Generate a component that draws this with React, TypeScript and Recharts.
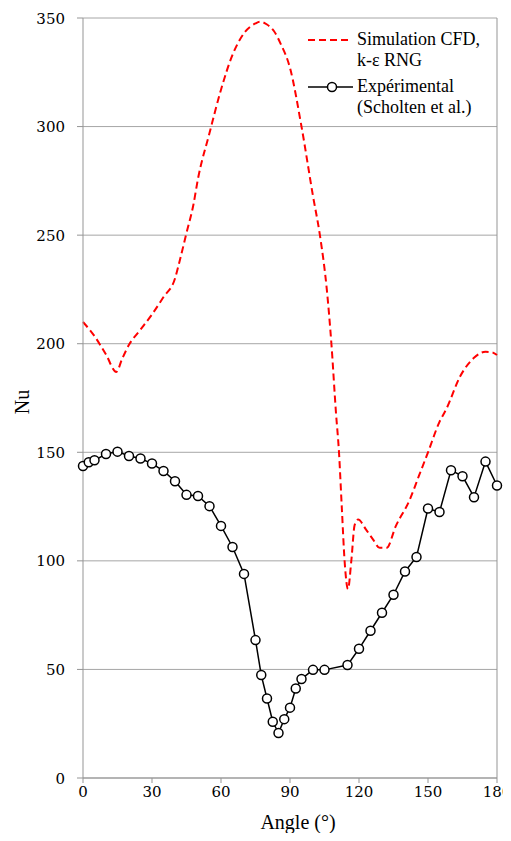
import React from 'react';
import { LineChart, Line, XAxis, YAxis, CartesianGrid, ReferenceLine, Label } from 'recharts';

const cfdAngles = [0, 5, 10, 14.5, 17, 20, 25, 30, 35, 40, 42, 45, 48, 50, 55, 60, 65, 70, 75, 77, 80, 83, 86, 90, 95, 100, 103, 106, 108, 110, 111.3, 112.5, 113.8, 115.2, 116.7, 118.1, 119.6, 123, 126, 129, 132, 136, 142, 146, 150, 155, 158, 164, 170, 175, 178, 180];
const cfdNu = [210, 203.5, 195, 187, 193, 199.5, 206.5, 213.5, 221.5, 230, 238, 251, 264, 276, 297, 317, 333, 343, 347.5, 348.3, 347, 344, 338, 327, 300, 268, 250, 225, 200, 168, 150, 125, 99, 87, 100.5, 116.5, 119, 114.5, 110, 106, 106, 116, 128, 139, 150, 164, 170, 185, 193.5, 196.3, 196, 194.8];

const expAngles = [0, 2.5, 5, 10, 15, 20, 25, 30, 35, 40, 45, 50, 55, 60, 65, 70, 75, 77.5, 80, 82.5, 85, 87.5, 90, 92.5, 95, 100, 105, 115, 120, 125, 130, 135, 140, 145, 150, 155, 160, 165, 170, 175, 180];
const expNu = [143.7, 145.4, 146.3, 149.2, 150.3, 148.3, 147.1, 144.8, 141.4, 136.7, 130.4, 129.9, 125.2, 116.1, 106.4, 94.0, 63.5, 47.4, 36.6, 25.9, 20.7, 27.1, 32.4, 41.2, 45.6, 49.8, 49.8, 52.0, 59.5, 67.8, 76.1, 84.4, 95.1, 101.8, 124.1, 122.5, 141.7, 139.0, 129.3, 145.7, 134.7];

const xTicks = [0, 30, 60, 90, 120, 150, 180];
const yTicks = [0, 50, 100, 150, 200, 250, 300, 350];

const seriesNames = ['Simulation CFD,\nk-ε RNG', 'Expérimental\n(Scholten et al.)'];

const cfdData = cfdAngles.map((a, i) => ({ angle: a, nu: cfdNu[i] }));
const expData = expAngles.map((a, i) => ({ angle: a, nu: expNu[i] }));

const FONT = 'Times New Roman';
const NUMFONT = 'DejaVu Serif';
const AXIS = '#959595';

const LegendBox = () => (
  <div style={{ position: 'absolute', left: 298, top: 21, fontFamily: FONT, fontSize: 18, lineHeight: '21px', color: '#000' }}>
    <div style={{ display: 'flex', alignItems: 'flex-start' }}>
      <svg width={51} height={21} style={{ display: 'block' }}>
        <line x1={2} y1={11} x2={44} y2={11} stroke="#ff0000" strokeWidth={2} strokeDasharray="7 4" />
      </svg>
      <div style={{ whiteSpace: 'pre' }}>{seriesNames[0]}</div>
    </div>
    <div style={{ display: 'flex', alignItems: 'flex-start', marginTop: 5 }}>
      <svg width={51} height={21} style={{ display: 'block' }}>
        <line x1={2} y1={11} x2={47} y2={11} stroke="#000" strokeWidth={1.5} />
        <circle cx={26} cy={11} r={4.5} fill="#fff" stroke="#000" strokeWidth={1.5} />
      </svg>
      <div style={{ whiteSpace: 'pre' }}>{seriesNames[1]}</div>
    </div>
  </div>
);

const XTick = (props: any) => {
  const { x, y, payload } = props;
  return (
    <text x={x} y={y} dy={12} textAnchor="middle" fontFamily={NUMFONT} fontSize={15} fill="#000">
      {payload.value}
    </text>
  );
};

const YTick = (props: any) => {
  const { x, y, payload } = props;
  return (
    <text x={x} y={y} dy={5.5} textAnchor="end" fontFamily={NUMFONT} fontSize={15} fill="#000">
      {payload.value}
    </text>
  );
};

export default function App() {
  return (
    <div style={{ position: 'relative', width: 503, height: 825 }}>
      <LineChart width={503} height={825} margin={{ top: 10, right: 14, left: 0, bottom: 15 }}>
        <CartesianGrid vertical={false} stroke="#a6a6a6" strokeWidth={1} />
        <XAxis
          dataKey="angle"
          type="number"
          domain={[0, 180]}
          ticks={xTicks}
          allowDuplicatedCategory={false}
          height={40}
          stroke={AXIS}
          tickSize={5}
          tickMargin={2}
          tick={<XTick />}
        >
          <Label
            content={({ viewBox }: any) => (
              <text x={viewBox.x + viewBox.width / 2 + 8} y={821} textAnchor="middle" fontFamily={FONT} fontSize={20} fill="#000">
                Angle (°)
              </text>
            )}
          />
        </XAxis>
        <YAxis
          type="number"
          domain={[0, 350]}
          ticks={yTicks}
          width={75}
          stroke={AXIS}
          tickSize={6}
          tickMargin={12}
          tick={<YTick />}
        >
          <Label
            content={({ viewBox }: any) => {
              const cx = 14;
              const cy = viewBox.y + viewBox.height / 2 + 4;
              return (
                <text x={cx} y={cy} transform={`rotate(-90 ${cx} ${cy})`} textAnchor="middle" dominantBaseline="central" fontFamily={FONT} fontSize={20} fill="#000">
                  Nu
                </text>
              );
            }}
          />
        </YAxis>
        <ReferenceLine x={180} stroke={AXIS} strokeWidth={1} ifOverflow="visible" />
        <Line
          data={cfdData}
          dataKey="nu"
          name="Simulation CFD, k-ε RNG"
          type="monotone"
          stroke="#ff0000"
          strokeWidth={2}
          strokeDasharray="7 4"
          dot={false}
          activeDot={false}
          isAnimationActive={false}
        />
        <Line
          data={expData}
          dataKey="nu"
          name="Expérimental (Scholten et al.)"
          type="linear"
          stroke="#000"
          strokeWidth={1.5}
          dot={{ r: 4.5, fill: '#fff', stroke: '#000', strokeWidth: 1.5 }}
          activeDot={false}
          isAnimationActive={false}
        />
      </LineChart>
      <LegendBox />
    </div>
  );
}
